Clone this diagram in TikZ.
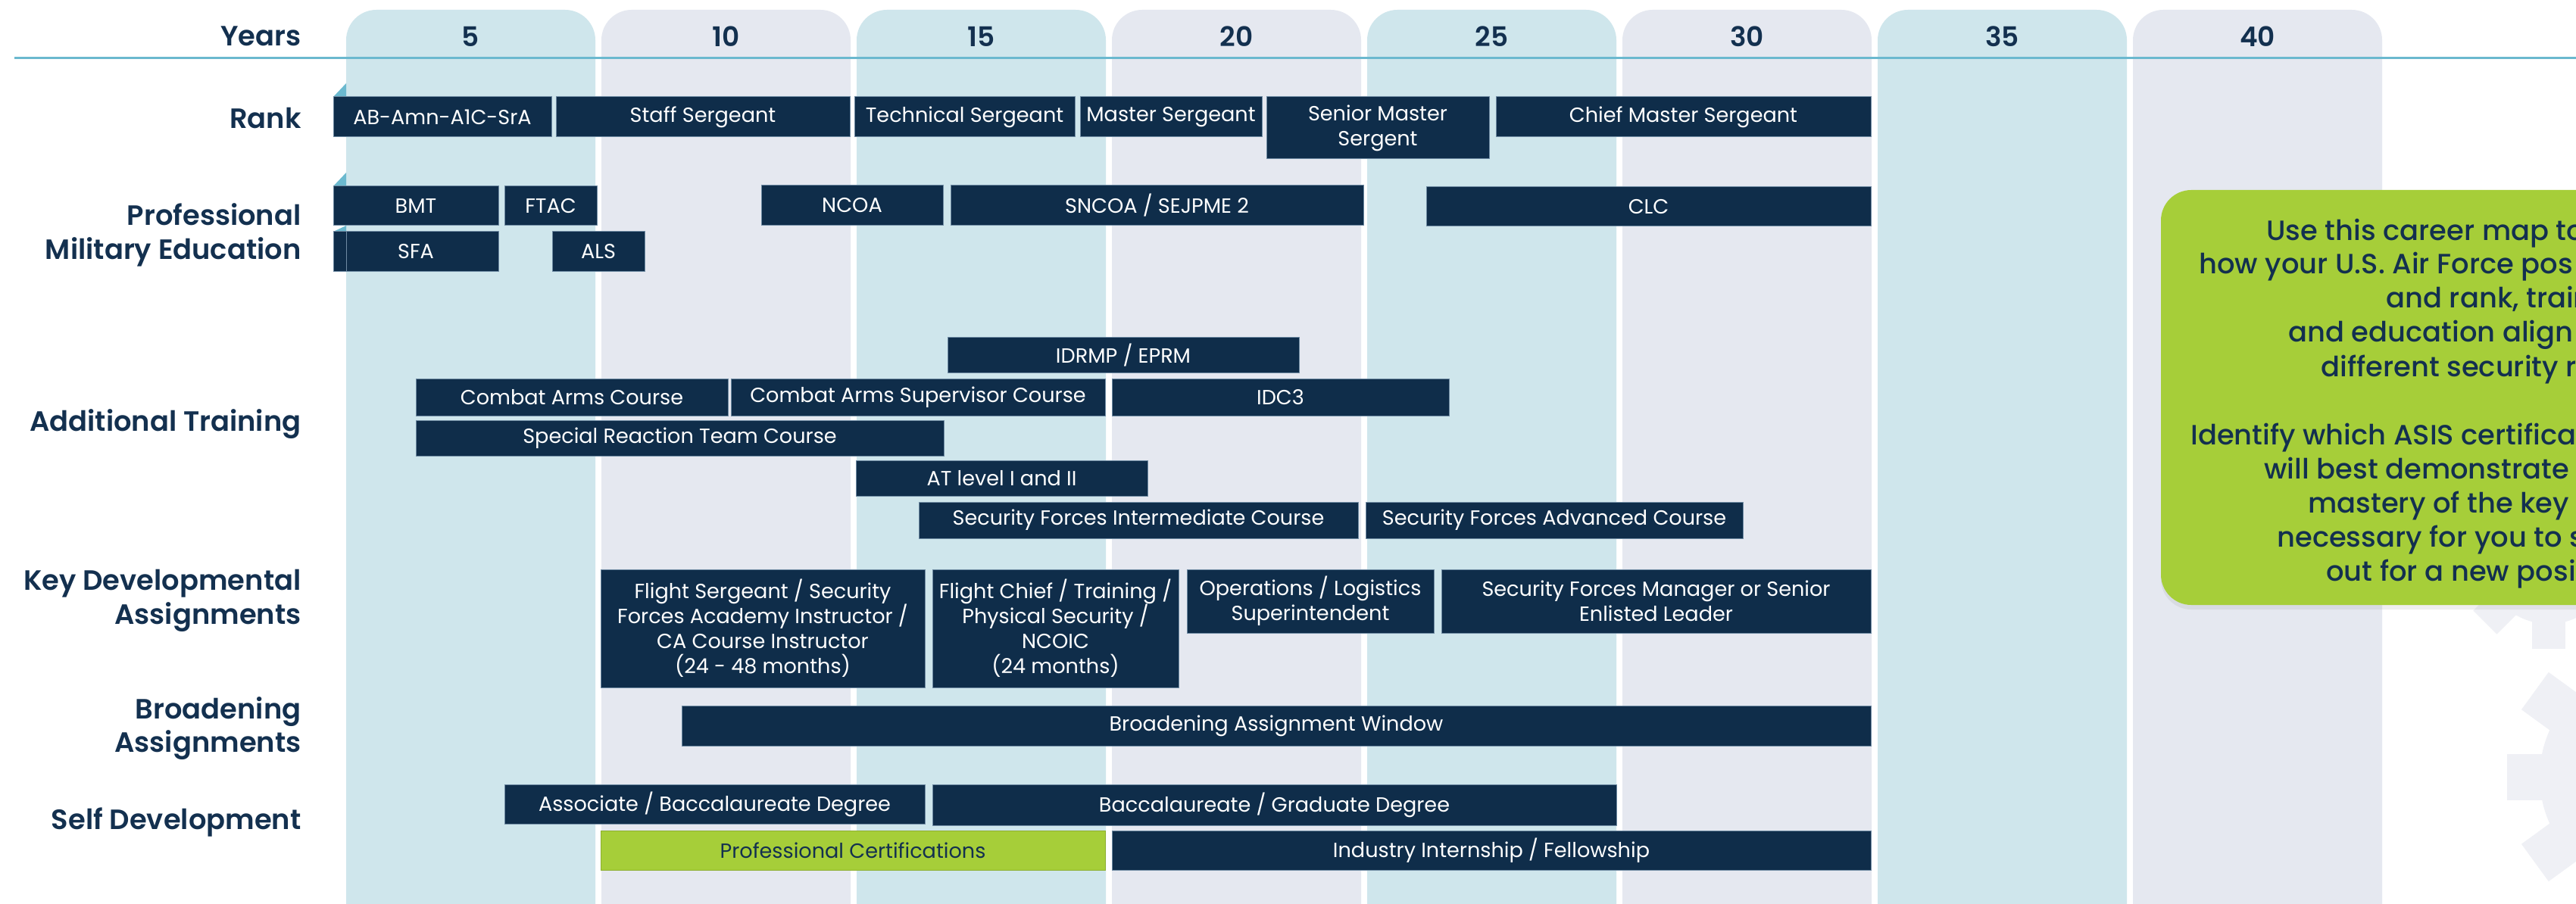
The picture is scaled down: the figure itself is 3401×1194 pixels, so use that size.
\documentclass[tikz,border=0pt]{standalone}
\usepackage{fontspec}
\setmainfont{Poppins}
\newfontfamily\semifont{Poppins SemiBold}
\newfontfamily\medfont{Poppins Medium}
\usetikzlibrary{shadows}
\definecolor{navy}{HTML}{0F2D4A}
\definecolor{ink}{HTML}{13304F}
\definecolor{edge}{HTML}{6F8BA3}
\definecolor{colblue}{HTML}{CFE6EC}
\definecolor{colgray}{HTML}{E5E8F0}
\definecolor{rulecol}{HTML}{6BB9CF}
\definecolor{lime}{HTML}{A6CE39}
\definecolor{gearcol}{HTML}{EFF0F5}
\begin{document}
\begin{tikzpicture}[x=0.5bp,y=-0.5bp,
  bar/.style={fill=navy,draw=edge,line width=0.5bp},
  greenbar/.style={fill=lime,draw=lime!85!black,line width=0.5bp},
  bartext/.style={text=white,font=\fontsize{13.6}{16.5}\selectfont,align=center,inner sep=0pt},
  rowlabel/.style={text=ink,font=\semifont\fontsize{18.5}{22.5}\selectfont,align=right,anchor=east,inner sep=0pt},
  yearnum/.style={text=ink,font=\semifont\fontsize{18}{20}\selectfont,inner sep=0pt},
  calltext/.style={text=ink,font=\medfont\fontsize{18.5}{22}\selectfont,anchor=base west,inner sep=0pt}]
\useasboundingbox (0,0) rectangle (3401,1194);
\clip (0,0) rectangle (3401,1194);
\fill[white] (0,0) rectangle (3401,1194);
%%
% Year columns
\foreach \yr/\c [count=\i from 0] in {5/colblue,10/colgray,15/colblue,20/colgray,25/colblue,30/colgray,35/colblue,40/colgray}{
  \pgfmathsetmacro\cx{457+337*\i}
  \fill[\c,rounded corners=20bp] (\cx,1240) -- (\cx,13) -- ({\cx+329},13) -- ({\cx+329},1240) -- cycle;
  \node[yearnum] (year\yr) at ({\cx+164.5},48) {\yr};
}
\node[rowlabel] (years) at (398,48) {Years};
\draw[rulecol,line width=1.5bp] (19,77) -- (3401,77);
%%
% Row labels
\node[rowlabel] (rank) at (398,156) {Rank};
\node[rowlabel] (pme) at (398,310) {Professional\\Military Education};
\node[rowlabel] (addtrain) at (398,560) {Additional Training};
\node[rowlabel] (keydev) at (398,793) {Key Developmental\\Assignments};
\node[rowlabel] (broad) at (398,962) {Broadening\\Assignments};
\node[rowlabel] (selfdev) at (398,1086) {Self Development};
%%
% Tabs
\fill[rulecol] (440,128) -- (457,110) -- (457,128) -- cycle;
\fill[rulecol] (440,246) -- (457,228) -- (457,246) -- cycle;
\fill[rulecol] (440,306) -- (457,298) -- (457,306) -- cycle;
%%
% Node: Rank
\draw[bar] (440,128) rectangle (728,181) node[bartext,midway] (abamn) {AB-Amn-A1C-SrA};
\draw[bar] (734,128) rectangle (1122,181) node[bartext,midway] (ssgt) {Staff Sergeant};
\draw[bar] (1128,128) rectangle (1419,181) node[bartext,midway] (tsgt) {Technical Sergeant};
\draw[bar] (1426,128) rectangle (1666,181) node[bartext,midway] (msgt) {Master Sergeant};
\draw[bar] (1672,128) rectangle (1966,210) node[bartext,midway] (smsgt) {Senior Master\\Sergent};
\draw[bar] (1975,128) rectangle (2470,181) node[bartext,midway] (cmsgt) {Chief Master Sergeant};
% Node: Professional Military Education
\draw[bar] (440,246) rectangle (658,298) node[bartext,midway] (bmt) {BMT};
\draw[bar] (666,246) rectangle (788,298) node[bartext,midway] (ftac) {FTAC};
\draw[bar] (1005,245) rectangle (1245,298) node[bartext,midway] (ncoa) {NCOA};
\draw[bar] (1255,245) rectangle (1800,298) node[bartext,midway] (sncoa) {SNCOA / SEJPME 2};
\draw[bar] (1883,247) rectangle (2470,299) node[bartext,midway] (clc) {CLC};
\draw[bar] (440,306) rectangle (658,359) node[bartext,midway] (sfa) {SFA};
\draw[edge,line width=0.5bp] (457,306) -- (457,359);
\draw[bar] (729,306) rectangle (851,359) node[bartext,midway] (als) {ALS};
% Node: Additional Training
\draw[bar] (1251,446) rectangle (1715,493) node[bartext,midway] (idrmp) {IDRMP / EPRM};
\draw[bar] (549,501) rectangle (961,549) node[bartext,midway] (cac) {Combat Arms Course};
\draw[bar] (965,501) rectangle (1459,549) node[bartext,midway] (cas) {Combat Arms Supervisor Course};
\draw[bar] (1468,501) rectangle (1913,549) node[bartext,midway] (idc) {IDC3};
\draw[bar] (549,555) rectangle (1246,602) node[bartext,midway] (srt) {Special Reaction Team Course};
\draw[bar] (1130,608) rectangle (1515,655) node[bartext,midway] (atl) {AT level I and II};
\draw[bar] (1213,663) rectangle (1793,711) node[bartext,midway] (sfint) {Security Forces Intermediate Course};
\draw[bar] (1803,663) rectangle (2301,711) node[bartext,midway] (sfadv) {Security Forces Advanced Course};
% Node: Key Developmental Assignments
\draw[bar] (793,752) rectangle (1221,908) node[bartext,midway] (fsgt) {Flight Sergeant / Security\\Forces Academy Instructor /\\CA Course Instructor\\(24 - 48 months)};
\draw[bar] (1231,752) rectangle (1556,908) node[bartext,midway] (fchief) {Flight Chief / Training /\\Physical Security /\\NCOIC\\(24 months)};
\draw[bar] (1567,752) rectangle (1893,836) node[bartext,midway] (ops) {Operations / Logistics\\Superintendent};
\draw[bar] (1903,752) rectangle (2470,836) node[bartext,midway] (sfm) {Security Forces Manager or Senior\\Enlisted Leader};
% Node: Broadening Assignments
\draw[bar] (900,932) rectangle (2470,985) node[bartext,midway] (baw) {Broadening Assignment Window};
% Node: Self Development
\draw[bar] (666,1036) rectangle (1221,1088) node[bartext,midway] (assoc) {Associate / Baccalaureate Degree};
\draw[bar] (1231,1036) rectangle (2134,1090) node[bartext,midway] (bacc) {Baccalaureate / Graduate Degree};
\draw[greenbar] (793,1097) rectangle (1459,1149) node[bartext,midway,text=ink] (pcert) {Professional Certifications};
\draw[bar] (1468,1097) rectangle (2470,1149) node[bartext,midway] (intern) {Industry Internship / Fellowship};
%%
% Gears
\fill[gearcol] (3503,1026) circle [radius=75bp];
\foreach \a in {0,36,...,324}
  \fill[gearcol,rotate around={\a:(3503,1026)}] (3310,995.5) rectangle (3420,1056.5);
\fill[gearcol] (3365,738) circle [radius=43bp];
\foreach \a in {0,45,...,315}
  \fill[gearcol,rotate around={\a:(3365,738)}] (3343,700) rectangle (3387,857);
%%
% Callout
\fill[lime,rounded corners=20bp,drop shadow={shadow xshift=0bp,shadow yshift=-3bp,opacity=0.12}] (2853,251) rectangle (3500,799);
\node[calltext] (c1) at (2992,318) {Use this career map to};
\node[calltext] (c2) at (2903,362) {how your U.S. Air Force pos};
\node[calltext] (c3) at (3150,407) {and rank, train};
\node[calltext] (c4) at (3021,452) {and education align w};
\node[calltext] (c5) at (3064,497) {different security r};
\node[calltext] (c6) at (2892,587) {Identify which ASIS certifica};
\node[calltext] (c7) at (2989,632) {will best demonstrate};
\node[calltext] (c8) at (3047,677) {mastery of the key s};
\node[calltext] (c9) at (3006,722) {necessary for you to st};
\node[calltext] (c10) at (3071,767) {out for a new posi};
%
\end{tikzpicture}
\end{document}
